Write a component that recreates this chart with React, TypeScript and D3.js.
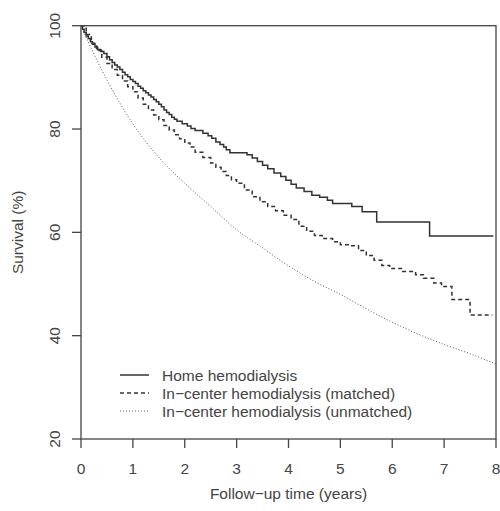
import React from 'react';
import { scaleLinear, line, curveStepAfter, curveMonotoneX } from 'd3';

// survival curves, [years, survival %]
const homeHD: [number, number][] = [
  [0, 100], [0.03, 99.3], [0.06, 98.7], [0.1, 98], [0.14, 97.5], [0.18, 96.9],
  [0.22, 96.4], [0.27, 95.9], [0.32, 95.4], [0.38, 95.0], [0.44, 94.6],
  [0.5, 94.0], [0.55, 93.4], [0.6, 92.9], [0.65, 92.4], [0.7, 92.0],
  [0.75, 91.5], [0.8, 91.0], [0.85, 90.5], [0.9, 90.1], [0.95, 89.6],
  [1.0, 89.2], [1.05, 88.8], [1.1, 88.3], [1.15, 87.9], [1.2, 87.4],
  [1.25, 87], [1.3, 86.6], [1.35, 86.2], [1.4, 85.7], [1.45, 85.3],
  [1.5, 84.8], [1.55, 84.3], [1.6, 83.7], [1.65, 83.2], [1.7, 82.8],
  [1.75, 82.3], [1.8, 81.9], [1.85, 81.5], [1.95, 81], [2.05, 80.6],
  [2.12, 80.1], [2.2, 79.7], [2.35, 79.2], [2.45, 78.7], [2.52, 78.2],
  [2.6, 77.5], [2.68, 77.0], [2.75, 76.5], [2.8, 76.0], [2.87, 75.4],
  [3.2, 75.0], [3.3, 74.4], [3.4, 73.7], [3.5, 73.0], [3.6, 72.3],
  [3.72, 71.5], [3.85, 70.8], [3.95, 70.1], [4.05, 69.3], [4.15, 68.6],
  [4.3, 67.9], [4.45, 67.2], [4.6, 66.8], [4.75, 66.2], [4.85, 65.6],
  [5.22, 65.0], [5.42, 64.0], [5.7, 62.0], [6.72, 59.3], [7.95, 59.3],
];

const matchedHD: [number, number][] = [
  [0, 100], [0.1, 98.3], [0.2, 96.6], [0.3, 95.2], [0.4, 93.9], [0.5, 92.7],
  [0.6, 91.5], [0.7, 90.4], [0.8, 89.3], [0.9, 88.2], [1.0, 87.2],
  [1.1, 86.0], [1.2, 84.8], [1.3, 83.7], [1.4, 82.7], [1.5, 81.8],
  [1.6, 80.7], [1.7, 79.8], [1.8, 78.9], [1.9, 78.1], [2.0, 77.3],
  [2.1, 76.5], [2.2, 75.5], [2.35, 74.5], [2.5, 73.4], [2.6, 72.6],
  [2.7, 71.8], [2.8, 71.0], [2.9, 70.2], [3.0, 69.5], [3.15, 68.2],
  [3.3, 66.9], [3.45, 65.9], [3.6, 65.0], [3.75, 64.2], [3.9, 63.3],
  [4.05, 62.5], [4.2, 61.2], [4.35, 60.2], [4.5, 59.4], [4.65, 58.8],
  [4.85, 58.2], [5.0, 57.6], [5.2, 57.4], [5.35, 56.5], [5.5, 55.5],
  [5.65, 54.6], [5.8, 53.6], [5.95, 53.0], [6.2, 52.4], [6.45, 51.8],
  [6.6, 51.1], [6.8, 50.2], [6.95, 49.5], [7.15, 47.0], [7.5, 44.0],
  [7.93, 44.0],
];

const unmatchedHD: [number, number][] = [
  [0, 100], [0.25, 94.5], [0.5, 89.5], [0.75, 85], [1, 81], [1.5, 74.5],
  [2, 69.5], [2.5, 65], [3, 60.5], [3.5, 57], [4, 53.5], [4.5, 50.5],
  [5, 48], [5.5, 45.2], [6, 42.6], [6.5, 40.3], [7, 38.3], [7.5, 36.5],
  [8, 34.5],
];

const xTicks = [0, 1, 2, 3, 4, 5, 6, 7, 8];
const yTicks = [20, 40, 60, 80, 100];
const legendLabels = [
  'Home hemodialysis',
  'In\u2212center hemodialysis (matched)',
  'In\u2212center hemodialysis (unmatched)',
];

const font = '"Liberation Sans", Arial, sans-serif';
const ink = '#444';

export default function App() {
  const width = 500;
  const height = 511;
  const left = 81, right = 496, top = 25.7, bottom = 439;

  const x = scaleLinear().domain([0, 8]).range([left, right]);
  const y = scaleLinear().domain([20, 100]).range([bottom, top]);

  const stepLine = line<[number, number]>()
    .x(d => x(d[0]))
    .y(d => y(d[1]))
    .curve(curveStepAfter);
  const smoothLine = line<[number, number]>()
    .x(d => x(d[0]))
    .y(d => y(d[1]))
    .curve(curveMonotoneX);

  const styles = [
    { dash: undefined, w: 1.5 },
    { dash: '4,3', w: 1.5 },
    { dash: '1,2', w: 1 },
  ];

  return (
    <svg width={width} height={height}
      style={{ position: 'absolute', left: 0, top: 0, background: '#fff' }}>
      {/* curves */}
      <path d={smoothLine(unmatchedHD) || ''} fill="none" stroke="#555"
        strokeWidth={styles[2].w} strokeDasharray={styles[2].dash} />
      <path d={stepLine(matchedHD) || ''} fill="none" stroke="#333"
        strokeWidth={styles[1].w} strokeDasharray={styles[1].dash} />
      <path d={stepLine(homeHD) || ''} fill="none" stroke="#333"
        strokeWidth={styles[0].w} />

      {/* frame */}
      <rect x={left} y={top} width={right - left} height={bottom - top}
        fill="none" stroke="#444" strokeWidth={1.3} />

      {/* x axis */}
      {xTicks.map(t => (
        <g key={t}>
          <line x1={x(t)} x2={x(t)} y1={bottom} y2={bottom + 9} stroke="#444" strokeWidth={1.3} />
          <text x={x(t)} y={474} textAnchor="middle" fontFamily={font} fontSize={15.5} fill={ink}>{t}</text>
        </g>
      ))}
      {/* y axis */}
      {yTicks.map(t => (
        <g key={t}>
          <line x1={left - 9} x2={left} y1={y(t)} y2={y(t)} stroke="#444" strokeWidth={1.3} />
          <text transform={`translate(60,${y(t)}) rotate(-90)`} textAnchor="middle"
            fontFamily={font} fontSize={15.5} fill={ink}>{t}</text>
        </g>
      ))}

      <text x={(left + right) / 2} y={499} textAnchor="middle" fontFamily={font}
        fontSize={15.5} fill={ink}>Follow{'\u2212'}up time (years)</text>
      <text transform={`translate(23,${(top + bottom) / 2}) rotate(-90)`} textAnchor="middle"
        fontFamily={font} fontSize={15.5} fill={ink}>Survival (%)</text>

      {/* legend */}
      {legendLabels.map((lab, i) => {
        const ly = 375 + i * 18;
        return (
          <g key={lab}>
            <line x1={120} x2={149} y1={ly} y2={ly} stroke={i === 2 ? '#666' : '#333'}
              strokeWidth={styles[i].w} strokeDasharray={styles[i].dash} />
            <text x={162} y={ly + 5.5} fontFamily={font} fontSize={15.5} fill={ink}>{lab}</text>
          </g>
        );
      })}
    </svg>
  );
}
